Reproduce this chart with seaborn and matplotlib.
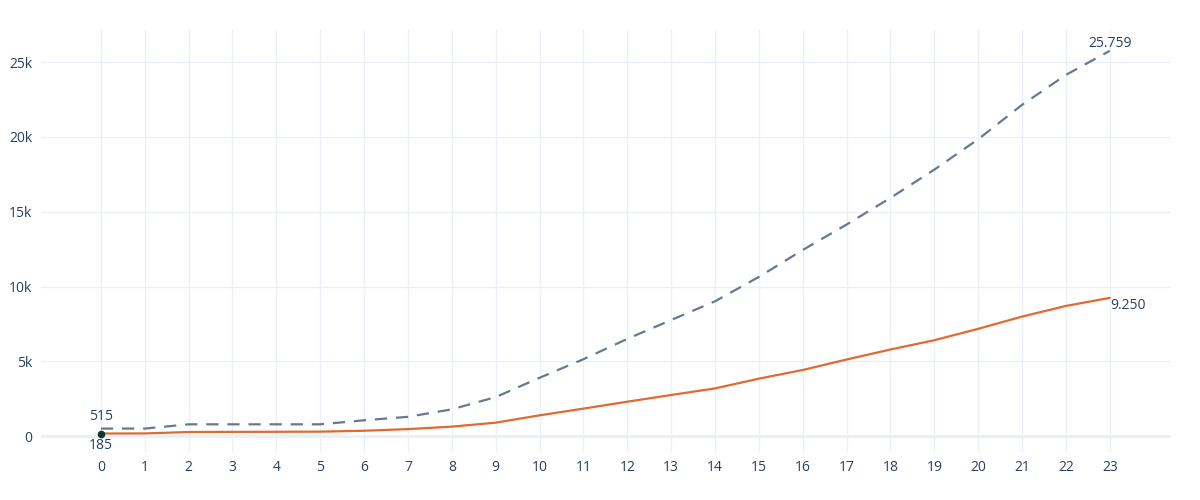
import pandas as pd
import matplotlib.pyplot as plt
import matplotlib.ticker as mticker
import seaborn as sns

# values
hours = list(range(24))
total_values = [515, 515, 800, 800, 800, 800, 1070, 1300, 1800, 2620, 3910, 5150,
                6510, 7770, 9020, 10650, 12450, 14150, 15930, 17820, 19850, 22150,
                24150, 25759]
part_values = [185, 190, 285, 295, 300, 310, 370, 480, 645, 910, 1400, 1850,
               2310, 2760, 3200, 3850, 4430, 5130, 5800, 6420, 7180, 8000,
               8710, 9250]

df = pd.DataFrame({"x": hours, "total": total_values, "part": part_values})

grey = "#687892"
orange = "#e06a2f"
text_col = "#2a3f5f"
grid_col = "#ebf0f8"

sns.set_theme(style="white")
plt.rcParams['font.family'] = ['Open Sans', 'DejaVu Sans']

fig = plt.figure(figsize=(12, 5), dpi=100)
ax = fig.add_axes([0.034, 0.096, 0.942, 0.844])

sns.lineplot(data=df, x="x", y="total", ax=ax, color=grey, linewidth=1.6,
             linestyle=(0, (5.5, 4)))
sns.lineplot(data=df, x="x", y="part", ax=ax, color=orange, linewidth=1.6)
ax.scatter([hours[0]], [part_values[0]], color="#0d3b2b", s=20, zorder=5)

fmt = lambda v: f"{v:,}".replace(",", ".")
# start and end labels
ax.annotate(fmt(total_values[0]), (hours[0], total_values[0]),
            xytext=(0, 3), textcoords="offset points", ha="center", va="bottom",
            fontsize=10, color=text_col)
ax.annotate(fmt(part_values[0]), (hours[0], part_values[0]),
            xytext=(0, -3), textcoords="offset points", ha="center", va="top",
            fontsize=10, color=text_col)
ax.annotate(fmt(total_values[-1]), (hours[-1], total_values[-1]),
            xytext=(0, 0), textcoords="offset points", ha="center", va="bottom",
            fontsize=10, color=text_col)
ax.annotate(fmt(part_values[-1]), (hours[-1], part_values[-1]),
            xytext=(0, 0), textcoords="offset points", ha="left", va="top",
            fontsize=10, color=text_col)

ax.set_xlim(-1.37, 24.4)
ax.set_ylim(-1050, 27150)
ax.set_xticks(hours)
ax.set_yticks([0, 5000, 10000, 15000, 20000, 25000])
ax.yaxis.set_major_formatter(mticker.FuncFormatter(
    lambda v, p: "0" if v == 0 else f"{int(v / 1000)}k"))
ax.grid(True, color=grid_col, linewidth=1)
ax.axhline(0, color=grid_col, linewidth=2, zorder=0)
for s in ax.spines.values():
    s.set_visible(False)
ax.tick_params(axis="both", length=0, labelsize=10, labelcolor=text_col, pad=6)
ax.set_xlabel("")
ax.set_ylabel("")

fig.savefig("out.png", dpi=100)
